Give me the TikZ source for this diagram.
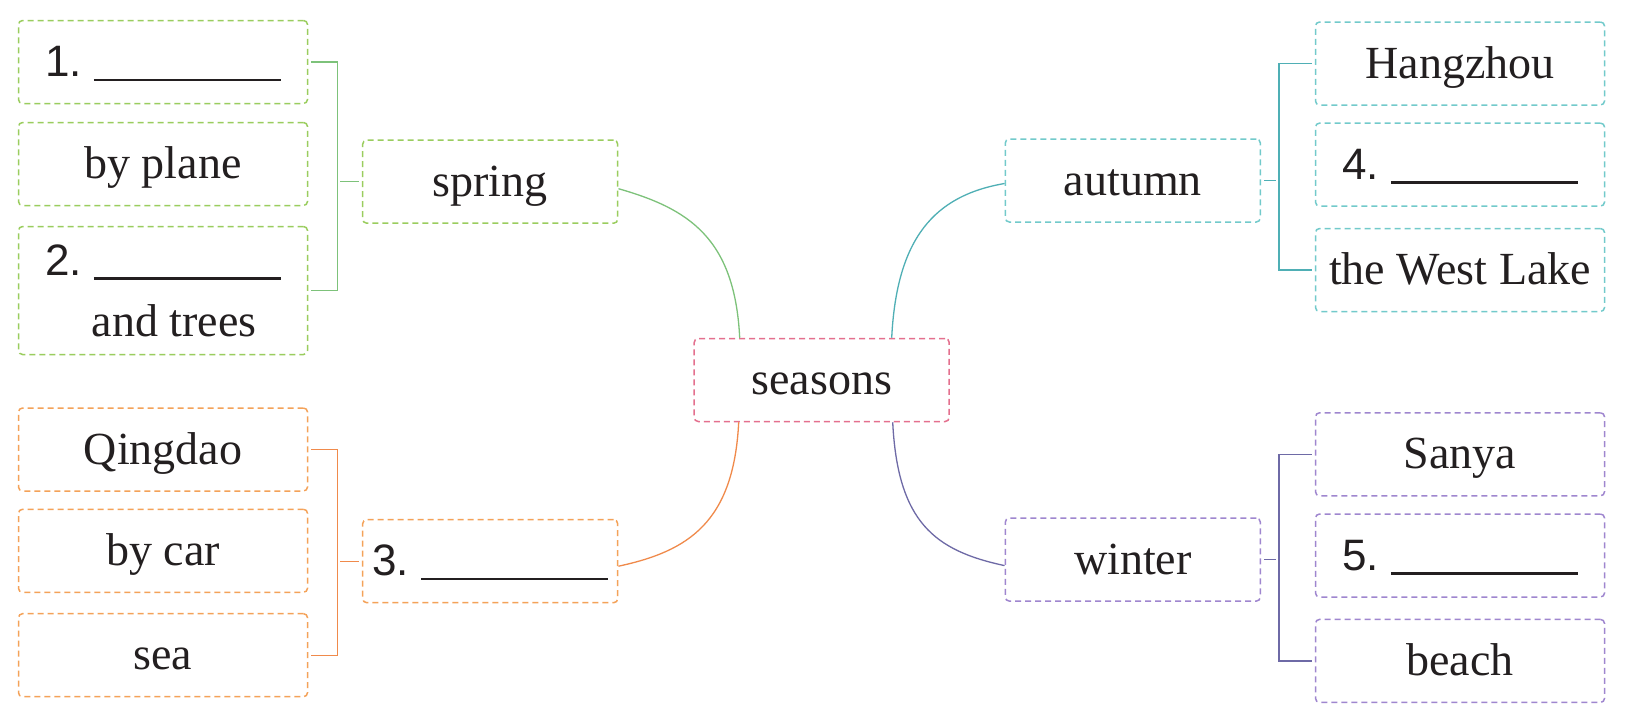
\documentclass[tikz,border=0pt]{standalone}
\usepackage{fontspec}
\setmainfont{Liberation Serif}
\newfontfamily\numfont{Liberation Sans}
\usetikzlibrary{calc}
\definecolor{ink}{HTML}{231F20}
\definecolor{greenbox}{HTML}{9ACD5E}
\definecolor{greenline}{HTML}{7DC27A}
\definecolor{tealbox}{HTML}{72CACB}
\definecolor{tealline}{HTML}{4FAFB5}
\definecolor{orangebox}{HTML}{F4A259}
\definecolor{orangeline}{HTML}{F08A4B}
\definecolor{purplebox}{HTML}{9F86CF}
\definecolor{purpleline}{HTML}{6E6AA6}
\definecolor{pinkbox}{HTML}{E4708E}
\newcommand\blankfill[1]{{\numfont\fontsize{44}{50}\selectfont #1.}\hspace{12pt}\rule[-4.7pt]{187pt}{2.7pt}}
\begin{document}
\begin{tikzpicture}[x=1pt,y=-1pt,
  box/.style={draw, dash pattern=on 6pt off 4pt, line width=1.5pt, rounded corners=4pt,
    minimum height=83pt, inner sep=0pt, text height=36pt, text depth=7pt,
    font=\fontsize{46}{55}\selectfont, text=ink},
  wide/.style={minimum width=289pt},
  mid/.style={minimum width=255pt},
  twoline/.style={minimum height=128pt, text height=, text depth=, align=center,
    font=\fontsize{46}{61}\selectfont},
  gbox/.style={box, draw=greenbox},
  tbox/.style={box, draw=tealbox},
  obox/.style={box, draw=orangebox},
  pbox/.style={box, draw=purplebox},
  rbox/.style={box, draw=pinkbox},
  link/.style={line width=1.3pt, shorten <=3pt, shorten >=3pt},
  curve/.style={line width=1.3pt},
]
\useasboundingbox (0,0) rectangle (1628,728);
\fill[white] (0,0) rectangle (1628,728);

% centre
\node[rbox, mid] (seasons) at (821.7,380) {seasons};

% spring
\node[gbox, mid] (spring) at (490.2,181.7) {spring};
\node[gbox, wide] (q1) at (163,62) {\blankfill{1}};
\node[gbox, wide] (plane) at (163,164) {by plane};
\node[gbox, wide, twoline] (q2) at (163,290.5) {\blankfill{2}\\\hspace*{22pt}and trees};
\coordinate (gL) at (337.4,0);
\draw[link, greenline] (q1.east) -- (q1.east -| gL) |- (q2.east);
\draw[link, greenline] (spring.west) -- (spring.west -| gL);

% summer (3.)
\node[obox, mid] (q3) at (490.2,561.2) {\blankfill{3}};
\node[obox, wide] (qingdao) at (163,449.5) {Qingdao};
\node[obox, wide] (car) at (163,550.8) {by car};
\node[obox, wide] (sea) at (163,655.2) {sea};
\draw[link, orangeline] (qingdao.east) -- (qingdao.east -| gL) |- (sea.east);
\draw[link, orangeline] (q3.west) -- (q3.west -| gL);

% autumn
\node[tbox, mid] (autumn) at (1132.8,180.5) {autumn};
\node[tbox, wide] (hz) at (1460,63.5) {Hangzhou};
\node[tbox, wide] (q4) at (1460,164.6) {\blankfill{4}};
\node[tbox, wide] (wl) at (1460,270) {the West Lake};
\coordinate (tR) at (1279,0);
\draw[link, tealline] (hz.west) -- (hz.west -| tR) |- (wl.west);
\draw[link, tealline] (autumn.east) -- (autumn.east -| tR);

% winter
\node[pbox, mid] (winter) at (1132.8,559.6) {winter};
\node[pbox, wide] (sanya) at (1460,454.3) {Sanya};
\node[pbox, wide] (q5) at (1460,555.5) {\blankfill{5}};
\node[pbox, wide] (beach) at (1460,660.9) {beach};
\draw[link, purpleline] (sanya.west) -- (sanya.west -| tR) |- (beach.west);
\draw[link, purpleline] (winter.east) -- (winter.east -| tR);

% curves to centre
\draw[curve, greenline] ($(spring.east)+(0,7)$) .. controls +(70,20) and +(-5,-100) .. ($(seasons.north)+(-82,0)$);
\draw[curve, tealline] ($(autumn.west)+(0,3)$) .. controls +(-70,12) and +(5,-100) .. ($(seasons.north)+(70,0)$);
\draw[curve, orangeline] ($(q3.east)+(0,5)$) .. controls +(70,-15) and +(-5,100) .. ($(seasons.south)+(-83,0)$);
\draw[curve, purpleline] ($(winter.west)+(0,6)$) .. controls +(-70,-15) and +(5,100) .. ($(seasons.south)+(71,0)$);
\end{tikzpicture}
\end{document}
